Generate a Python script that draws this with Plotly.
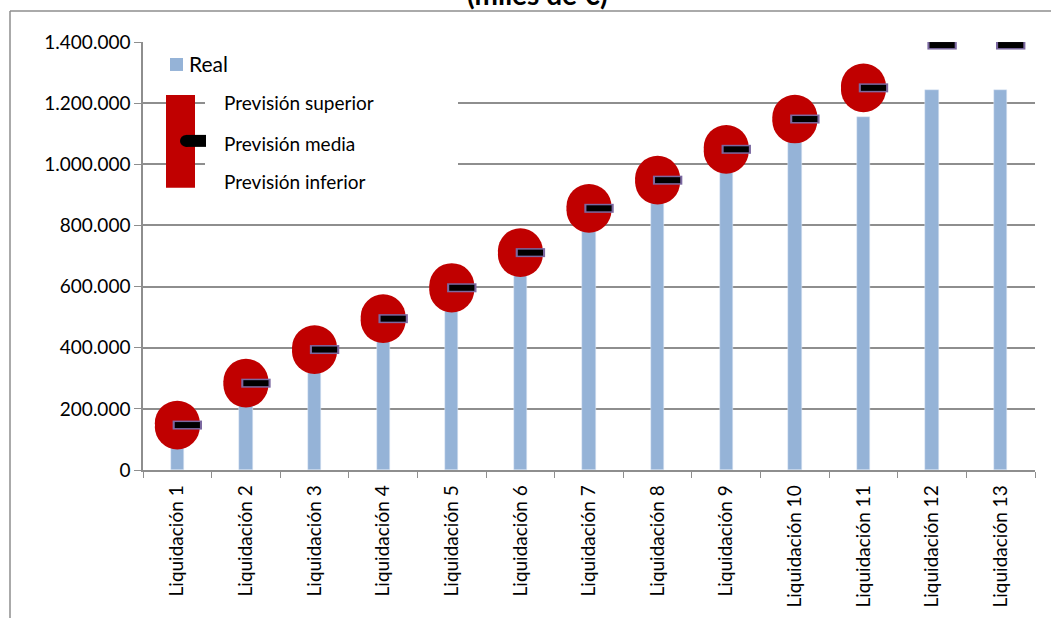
import plotly.graph_objects as go

categories = ["Liquidación 1", "Liquidación 2", "Liquidación 3", "Liquidación 4",
              "Liquidación 5", "Liquidación 6", "Liquidación 7", "Liquidación 8",
              "Liquidación 9", "Liquidación 10", "Liquidación 11", "Liquidación 12",
              "Liquidación 13"]
real = [120000, 250000, 355000, 455000, 555000, 665000, 800000, 900000,
        1000000, 1095000, 1155000, 1243000, 1243000]
prevision_media = [147000, 284000, 394000, 495000, 596000, 711000, 856000, 948000,
                   1049000, 1148000, 1250000, 1390000, 1390000]
prevision_superior = [153000, 290000, 400000, 501000, 603000, 717000, 862000, 954000,
                      1055000, 1154000, 1256000, None, None]
prevision_inferior = [141000, 278000, 388000, 489000, 589000, 705000, 850000, 942000,
                      1043000, 1142000, 1244000, None, None]
title_text = "(miles de €)"

W, H = 1051, 618
L, R, T, B = 143, 1035, 42, 470.5
FONT = "Lato"
GRID = "#8e8e8e"
BLUE = "#95b3d7"
RED = "#c00000"
PURPLE = "#7b68a0"


def px(x):
    return (x - L) / (R - L)


def py(y):
    return (B - y) / (B - T)


idx = list(range(len(categories)))
close_x = [i + 0.146 for i in idx]

fig = go.Figure()
fig.add_trace(go.Bar(x=categories, y=real, name="Real", marker_color=BLUE,
                     width=0.194, showlegend=False))
fig.add_trace(go.Scatter(x=categories, y=prevision_superior, mode="markers",
                         name="Previsión superior",
                         marker=dict(symbol="circle", size=45, color=RED),
                         showlegend=False))
fig.add_trace(go.Scatter(x=categories, y=prevision_inferior, mode="markers",
                         name="Previsión inferior",
                         marker=dict(symbol="circle", size=45, color=RED),
                         showlegend=False))
fig.add_trace(go.Scatter(x=close_x, y=prevision_media, mode="markers", xaxis="x2",
                         name="Previsión media border",
                         marker=dict(symbol="line-ew", size=21,
                                     line=dict(width=9, color=PURPLE)),
                         showlegend=False, hoverinfo="skip"))
fig.add_trace(go.Scatter(x=close_x, y=prevision_media, mode="markers", xaxis="x2",
                         name="Previsión media",
                         marker=dict(symbol="line-ew", size=18,
                                     line=dict(width=6, color="black")),
                         showlegend=False))

shapes = []
# chart frame
shapes.append(dict(type="line", xref="paper", yref="paper",
                   x0=px(10), x1=px(W + 5), y0=py(11), y1=py(11),
                   line=dict(color=GRID, width=1.5), layer="above"))
shapes.append(dict(type="line", xref="paper", yref="paper",
                   x0=px(10), x1=px(10), y0=py(11), y1=py(H + 5),
                   line=dict(color=GRID, width=1.5), layer="above"))
# legend background (hides gridlines)
shapes.append(dict(type="rect", xref="paper", yref="paper",
                   x0=px(205), x1=px(458), y0=py(85), y1=py(195),
                   fillcolor="white", line=dict(width=0), layer="above"))
# legend symbols
shapes.append(dict(type="rect", xref="paper", yref="paper",
                   x0=px(170), x1=px(183), y0=py(58), y1=py(71),
                   fillcolor=BLUE, line=dict(width=0), layer="above"))
shapes.append(dict(type="rect", xref="paper", yref="paper",
                   x0=px(166), x1=px(195), y0=py(95), y1=py(188),
                   fillcolor=RED, line=dict(width=0), layer="above"))
shapes.append(dict(type="circle", xref="paper", yref="paper",
                   x0=px(180), x1=px(192), y0=py(135), y1=py(147),
                   fillcolor="black", line=dict(width=0), layer="above"))
shapes.append(dict(type="rect", xref="paper", yref="paper",
                   x0=px(186), x1=px(206), y0=py(135), y1=py(147),
                   fillcolor="black", line=dict(width=0), layer="above"))

annotations = []
legend_items = [("Real", 187, 64, 21), ("Previsión superior", 222, 103, 19),
                ("Previsión media", 222, 144, 19), ("Previsión inferior", 222, 182, 19)]
for text, x, y, s in legend_items:
    annotations.append(dict(text=text, xref="paper", yref="paper", x=px(x), y=py(y),
                            xanchor="left", yanchor="middle", showarrow=False,
                            font=dict(family=FONT, size=s, color="black")))
annotations.append(dict(text="<b>" + title_text + "</b>", xref="paper", yref="paper",
                        x=px(537), y=py(-6), xanchor="center", yanchor="middle",
                        showarrow=False,
                        font=dict(family=FONT, size=28, color="black")))

fig.update_layout(
    width=W, height=H,
    margin=dict(l=L, r=W - R, t=T, b=H - B, autoexpand=False),
    paper_bgcolor="white", plot_bgcolor="white",
    separators=",.",
    showlegend=False,
    bargap=0,
    shapes=shapes,
    annotations=annotations,
    font=dict(family=FONT, size=18, color="black"),
    xaxis=dict(type="category", tickson="boundaries", ticks="outside", ticklen=6,
               tickcolor=GRID, showline=True, linecolor=GRID, linewidth=1.5,
               showgrid=False, tickangle=-90, automargin=False,
               ticklabelstandoff=6,
               tickfont=dict(family=FONT, size=19), range=[-0.5, 12.5]),
    xaxis2=dict(overlaying="x", range=[-0.5, 12.5], visible=False),
    yaxis=dict(range=[0, 1400000], dtick=200000, tickformat=",d",
               ticks="outside", ticklen=7, tickcolor=GRID,
               showline=True, linecolor=GRID, linewidth=1.5,
               showgrid=True, gridcolor=GRID, gridwidth=1.5,
               zeroline=False, automargin=False,
               tickfont=dict(family=FONT, size=19)),
)

fig.write_html("out.html", config={"displayModeBar": False},
               post_script="document.body.style.margin='0';"
                           "document.body.style.overflow='hidden';")
